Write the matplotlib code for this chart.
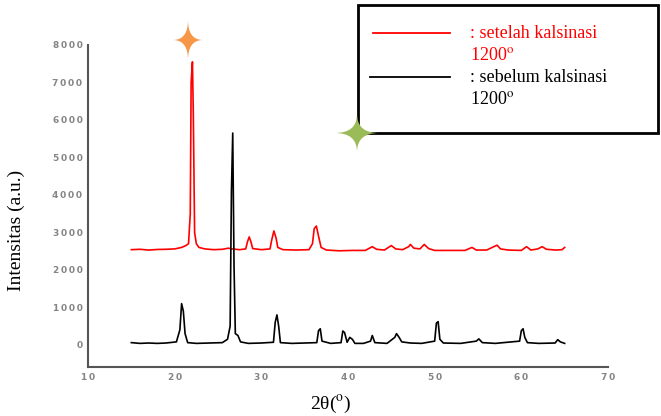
import matplotlib
matplotlib.use("Agg")
import matplotlib.pyplot as plt
from matplotlib.patches import Rectangle, PathPatch
from matplotlib.path import Path

plt.rcParams['mathtext.fontset'] = 'stix'

# XRD pattern after calcination at 1200 (offset upward)
setelah_2theta = [15.0, 16.0, 17.0, 18.0, 19.0, 20.0, 20.8, 21.3, 21.6, 21.8, 21.9, 22.05, 22.15,
                  22.3, 22.5, 22.8, 23.5, 24.5, 25.5, 26.2, 26.6, 27.5, 28.2, 28.4, 28.6, 28.8,
                  29.0, 30.0, 31.0, 31.2, 31.45, 31.7, 31.9, 32.5, 34.0, 35.5, 35.9, 36.1, 36.35,
                  36.6, 36.9, 37.5, 39.0, 40.5, 42.0, 42.8, 43.3, 44.2, 45.0, 45.5, 46.3, 47.0,
                  47.2, 47.6, 48.3, 48.8, 49.3, 50.0, 52.0, 53.5, 54.3, 54.8, 56.0, 57.2, 57.6,
                  58.5, 60.0, 60.6, 61.1, 61.9, 62.4, 62.9, 64.0, 64.7, 65.0]
setelah_int = [2540, 2550, 2530, 2545, 2550, 2560, 2600, 2650, 2700, 3500, 7000, 7550, 6200,
               3000, 2700, 2600, 2560, 2540, 2550, 2580, 2560, 2540, 2560, 2750, 2880, 2750,
               2570, 2540, 2560, 2800, 3040, 2850, 2600, 2540, 2530, 2540, 2700, 3100, 3170,
               2900, 2600, 2530, 2510, 2520, 2520, 2620, 2550, 2530, 2650, 2560, 2540, 2620,
               2680, 2580, 2560, 2680, 2570, 2520, 2520, 2520, 2600, 2530, 2530, 2660, 2560,
               2530, 2520, 2620, 2530, 2560, 2620, 2550, 2530, 2540, 2600]

# XRD pattern before calcination
sebelum_2theta = [15.0, 16.0, 17.0, 18.0, 19.0, 20.2, 20.6, 20.8, 21.0, 21.2, 21.5, 22.5, 24.0,
                  25.5, 26.1, 26.4, 26.55, 26.7, 26.85, 27.0, 27.3, 27.6, 28.5, 30.0, 31.4, 31.6,
                  31.8, 32.0, 32.2, 33.5, 35.0, 36.4, 36.6, 36.8, 37.0, 38.0, 39.2, 39.4, 39.6,
                  39.9, 40.2, 40.5, 40.8, 41.8, 42.6, 42.8, 43.1, 44.5, 45.4, 45.6, 45.9, 46.2,
                  47.2, 48.5, 50.0, 50.2, 50.4, 50.6, 51.0, 53.0, 54.8, 55.1, 55.5, 57.0, 59.8,
                  60.0, 60.2, 60.4, 60.7, 62.0, 63.9, 64.2, 64.5, 65.0]
sebelum_int = [60, 40, 50, 40, 50, 80, 400, 1100, 900, 300, 60, 40, 50,
               60, 150, 500, 4100, 5650, 2100, 300, 250, 80, 40, 50, 70, 600,
               800, 500, 60, 40, 50, 60, 380, 430, 100, 40, 60, 370, 330,
               70, 200, 150, 40, 40, 100, 250, 60, 40, 200, 300, 200, 80,
               50, 40, 100, 580, 620, 150, 50, 40, 100, 160, 60, 40, 100,
               380, 430, 200, 60, 40, 50, 140, 80, 40]

x_ticks = [10, 20, 30, 40, 50, 60, 70]
y_ticks = [0, 1000, 2000, 3000, 4000, 5000, 6000, 7000, 8000]

W, H = 661, 416
fig = plt.figure(figsize=(W / 100, H / 100), dpi=100)
ax = fig.add_axes([88 / W, 1 - 367 / H, (608 - 88) / W, (367 - 45) / H])

ax.plot(setelah_2theta, setelah_int, color='#ff0000', lw=1.2)
ax.plot(sebelum_2theta, sebelum_int, color='black', lw=1.2)

ax.set_xlim(10, 70)
ax.set_ylim(-590, 8000)
for s in ['top', 'right']:
    ax.spines[s].set_visible(False)
for s in ['left', 'bottom']:
    ax.spines[s].set_color('#555555')
    ax.spines[s].set_linewidth(1.5)

def spaced(v):
    return '\u2009'.join(str(v))

ax.set_xticks(x_ticks)
ax.set_xticklabels([spaced(t) for t in x_ticks])
ax.set_yticks(y_ticks)
ax.set_yticklabels([spaced(t) for t in y_ticks])
ax.tick_params(length=0, labelsize=6.5, labelcolor='#858585', pad=4)
for lab in ax.get_xticklabels() + ax.get_yticklabels():
    lab.set_fontweight('bold')

fig.text(16 / W, 1 - 230 / H, 'Intensitas (a.u.)', rotation=90, ha='center', va='center',
         family='Liberation Serif', fontsize=14)
fig.text(331 / W, 1 - 404 / H, r'2θ($^{\mathrm{o}}$)', ha='center', va='center',
         family='Liberation Serif', fontsize=14)

# legend box
fig.patches.append(Rectangle((358 / W, 1 - 133 / H), (658 - 358) / W, (133 - 5) / H,
                             transform=fig.transFigure, fill=False, edgecolor='black', lw=2))
fig.add_artist(plt.Line2D([373 / W, 450 / W], [1 - 33 / H, 1 - 33 / H],
                          transform=fig.transFigure, color='red', lw=1.3))
fig.add_artist(plt.Line2D([370 / W, 450 / W], [1 - 77 / H, 1 - 77 / H],
                          transform=fig.transFigure, color='black', lw=1.3))
fig.text(470 / W, 1 - 34 / H, ': setelah kalsinasi', color='red', family='Liberation Serif',
         fontsize=13, va='center')
fig.text(470 / W, 1 - 55 / H, r'1200$^{\mathrm{o}}$', color='red', family='Liberation Serif',
         fontsize=13, va='center')
fig.text(470 / W, 1 - 78 / H, ': sebelum kalsinasi', color='black', family='Liberation Serif',
         fontsize=13, va='center')
fig.text(470 / W, 1 - 99 / H, r'1200$^{\mathrm{o}}$', color='black', family='Liberation Serif',
         fontsize=13, va='center')

def star(cx, cy, hw, hh, color):
    pts = [(0, 1), (0, 0), (1, 0), (0, 0), (0, -1), (0, 0), (-1, 0), (0, 0), (0, 1)]
    codes = [Path.MOVETO] + [Path.CURVE3] * 8
    verts = [((cx + px * hw) / W, 1 - (cy - py * hh) / H) for px, py in pts]
    fig.patches.append(PathPatch(Path(verts, codes), transform=fig.transFigure,
                                 facecolor=color, edgecolor='none', zorder=5))

star(188, 40, 15, 20, '#f79646')
star(357, 133, 22, 19, '#9bbb59')

fig.savefig('out.png', dpi=100)
